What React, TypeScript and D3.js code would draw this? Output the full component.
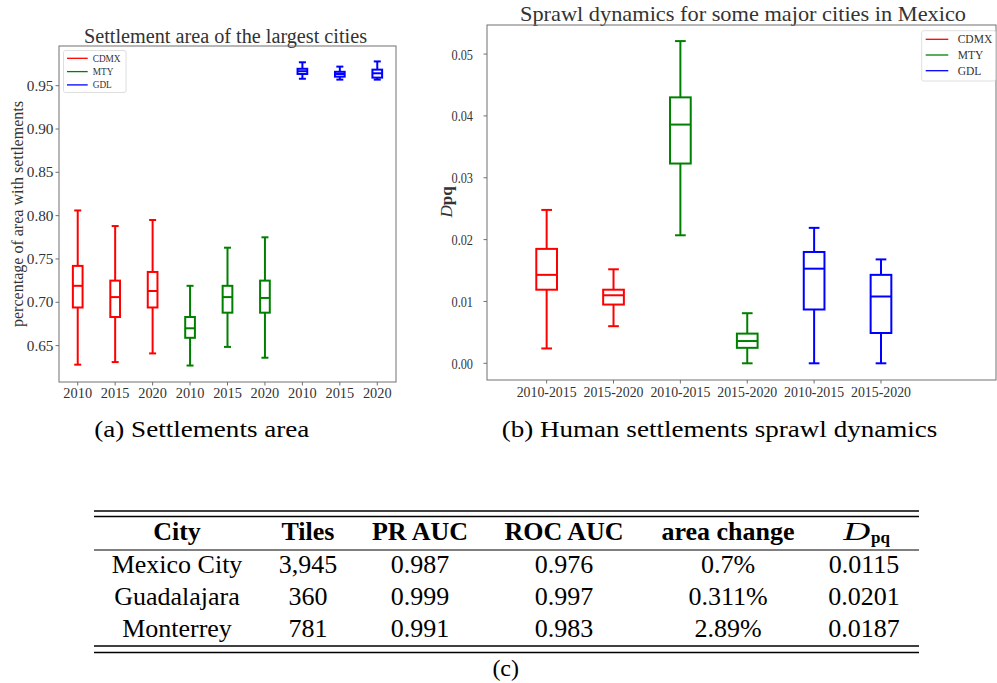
import * as d3 from 'd3';

// (a) settlement area per city and year
const areaYears = ['2010', '2015', '2020', '2010', '2015', '2020', '2010', '2015', '2020'];
const areaCity = ['CDMX', 'CDMX', 'CDMX', 'MTY', 'MTY', 'MTY', 'GDL', 'GDL', 'GDL'];
const areaLow = [0.628, 0.631, 0.641, 0.627, 0.6485, 0.636, 0.958, 0.957, 0.957];
const areaQ1 = [0.694, 0.683, 0.694, 0.659, 0.688, 0.688, 0.9635, 0.9604, 0.9593];
const areaMed = [0.719, 0.706, 0.713, 0.67, 0.706, 0.705, 0.9667, 0.9635, 0.9643];
const areaQ3 = [0.742, 0.725, 0.735, 0.683, 0.719, 0.725, 0.9695, 0.966, 0.9685];
const areaHigh = [0.806, 0.788, 0.795, 0.719, 0.763, 0.775, 0.977, 0.972, 0.978];
const areaTicks = [0.65, 0.7, 0.75, 0.8, 0.85, 0.9, 0.95];

// (b) sprawl dynamics Dpq
const sprawlPeriods = ['2010-2015', '2015-2020', '2010-2015', '2015-2020', '2010-2015', '2015-2020'];
const sprawlCity = ['CDMX', 'CDMX', 'MTY', 'MTY', 'GDL', 'GDL'];
const sprawlLow = [0.0024, 0.006, 0.0207, 0, 0, 0];
const sprawlQ1 = [0.0119, 0.0095, 0.0323, 0.0025, 0.0087, 0.0049];
const sprawlMed = [0.0143, 0.011, 0.0386, 0.0036, 0.0153, 0.0108];
const sprawlQ3 = [0.0185, 0.0119, 0.043, 0.0048, 0.018, 0.0143];
const sprawlHigh = [0.0248, 0.0152, 0.0521, 0.0081, 0.0219, 0.0168];
const sprawlTicks = [0, 0.01, 0.02, 0.03, 0.04, 0.05];

const legendCities = ['CDMX', 'MTY', 'GDL'];
const cityColor: Record<string, string> = { CDMX: '#ff0000', MTY: '#008000', GDL: '#0000ff' };

// (c) table
const tableHeader = ['City', 'Tiles', 'PR AUC', 'ROC AUC', 'area change'];
const tableCity = ['Mexico City', 'Guadalajara', 'Monterrey'];
const tableTiles = ['3,945', '360', '781'];
const tablePr = ['0.987', '0.999', '0.991'];
const tableRoc = ['0.976', '0.997', '0.983'];
const tableArea = ['0.7%', '0.311%', '2.89%'];
const tableDpq = ['0.0115', '0.0201', '0.0187'];

const SERIF = '"Liberation Serif", "DejaVu Serif", serif';
const TXT = '#333';
const SPINE = '#707070';

interface BoxProps {
  x: d3.ScaleLinear<number, number>;
  y: d3.ScaleLinear<number, number>;
  low: number[];
  q1: number[];
  med: number[];
  q3: number[];
  high: number[];
  city: string[];
  boxW: number;
  capW: number;
}

function Boxes({ x, y, low, q1, med, q3, high, city, boxW, capW }: BoxProps) {
  return (
    <g fill="none" strokeWidth={2}>
      {low.map((_, i) => {
        const cx = x(i + 1);
        const c = cityColor[city[i]];
        return (
          <g key={i} stroke={c}>
            <line x1={cx} x2={cx} y1={y(low[i])} y2={y(q1[i])} />
            <line x1={cx} x2={cx} y1={y(q3[i])} y2={y(high[i])} />
            <line x1={cx - capW / 2} x2={cx + capW / 2} y1={y(low[i])} y2={y(low[i])} />
            <line x1={cx - capW / 2} x2={cx + capW / 2} y1={y(high[i])} y2={y(high[i])} />
            <rect x={cx - boxW / 2} width={boxW} y={y(q3[i])} height={y(q1[i]) - y(q3[i])} />
            <line x1={cx - boxW / 2} x2={cx + boxW / 2} y1={y(med[i])} y2={y(med[i])} />
          </g>
        );
      })}
    </g>
  );
}

export default function App() {
  // panel (a)
  const ax = d3.scaleLinear().domain([0.5, 9.5]).range([59, 396]);
  const ay = d3.scaleLinear().domain([0.608, 0.9958]).range([382, 46]);
  // panel (b)
  const bx = d3.scaleLinear().domain([0.108, 7.72]).range([487, 996]);
  const by = d3.scaleLinear().domain([-0.0027, 0.0547]).range([380, 25]);

  const colX = [177, 308, 420, 564, 728, 864];
  const rowY = [573, 605, 637];
  const tableRows = tableCity.map((c, i) => [c, tableTiles[i], tablePr[i], tableRoc[i], tableArea[i], tableDpq[i]]);

  return (
    <svg
      width={997}
      height={683}
      style={{ position: 'absolute', left: 0, top: 0, background: '#fff' }}
      fontFamily={SERIF}
    >
      {/* ---------- (a) ---------- */}
      <text x={225.5} y={42.5} fontSize={20} fill={TXT} textAnchor="middle" textLength={283} lengthAdjust="spacingAndGlyphs">
        Settlement area of the largest cities
      </text>
      <rect x={59} y={46} width={337} height={336} fill="none" stroke={SPINE} strokeWidth={1} />
      {areaTicks.map((t) => (
        <g key={t}>
          <line x1={55.5} x2={59} y1={ay(t)} y2={ay(t)} stroke={SPINE} />
          <text x={53.5} y={ay(t) + 5} fontSize={15.5} fill={TXT} textAnchor="end" textLength={26.7} lengthAdjust="spacingAndGlyphs">
            {t.toFixed(2)}
          </text>
        </g>
      ))}
      {areaYears.map((yr, i) => (
        <g key={i}>
          <line x1={ax(i + 1)} x2={ax(i + 1)} y1={382} y2={385.5} stroke={SPINE} />
          <text x={ax(i + 1)} y={397.5} fontSize={15.5} fill={TXT} textAnchor="middle" textLength={28.7} lengthAdjust="spacingAndGlyphs">
            {yr}
          </text>
        </g>
      ))}
      <text
        transform="translate(23,214) rotate(-90)"
        fontSize={16}
        fill={TXT}
        textAnchor="middle"
        textLength={226}
        lengthAdjust="spacingAndGlyphs"
      >
        percentage of area with settlements
      </text>
      <Boxes x={ax} y={ay} low={areaLow} q1={areaQ1} med={areaMed} q3={areaQ3} high={areaHigh} city={areaCity} boxW={9.7} capW={7} />
      <rect x={63.5} y={50.5} width={62.5} height={42} rx={2} fill="#fff" fillOpacity={0.8} stroke="#d6d6d6" strokeWidth={0.8} />
      {legendCities.map((c, i) => (
        <g key={c}>
          <line x1={67} x2={87.7} y1={58.3 + i * 13.3} y2={58.3 + i * 13.3} stroke={cityColor[c]} strokeWidth={1.3} />
          <text x={92.7} y={58.3 + i * 13.3 + 3.2} fontSize={9.3} fill={TXT}>
            {c}
          </text>
        </g>
      ))}

      {/* ---------- (b) ---------- */}
      <text x={743} y={20.7} fontSize={22} fill={TXT} textAnchor="middle" textLength={446} lengthAdjust="spacingAndGlyphs">
        Sprawl dynamics for some major cities in Mexico
      </text>
      <rect x={487} y={25} width={509} height={355} fill="none" stroke={SPINE} strokeWidth={1} />
      {sprawlTicks.map((t) => (
        <g key={t}>
          <line x1={483.5} x2={487} y1={by(t)} y2={by(t)} stroke={SPINE} />
          <text x={473} y={by(t) + 5.5} fontSize={15.5} fill={TXT} textAnchor="end" textLength={21.5} lengthAdjust="spacingAndGlyphs">
            {t.toFixed(2)}
          </text>
        </g>
      ))}
      {sprawlPeriods.map((p, i) => (
        <g key={i}>
          <line x1={bx(i + 1)} x2={bx(i + 1)} y1={380} y2={383.5} stroke={SPINE} />
          <text x={bx(i + 1)} y={397} fontSize={15.5} fill={TXT} textAnchor="middle" textLength={60} lengthAdjust="spacingAndGlyphs">
            {p}
          </text>
        </g>
      ))}
      <text transform="translate(452,202) rotate(-90)" fontSize={17} fill={TXT} textAnchor="middle">
        <tspan fontStyle="italic">D</tspan>
        <tspan fontWeight="bold">pq</tspan>
      </text>
      <Boxes x={bx} y={by} low={sprawlLow} q1={sprawlQ1} med={sprawlMed} q3={sprawlQ3} high={sprawlHigh} city={sprawlCity} boxW={20.7} capW={10.7} />
      <rect x={921.7} y={30.7} width={74} height={50.3} rx={2} fill="#fff" fillOpacity={0.8} stroke="#d6d6d6" strokeWidth={0.8} />
      {legendCities.map((c, i) => (
        <g key={c}>
          <line x1={925.7} x2={948.3} y1={39.3 + i * 15.7} y2={39.3 + i * 15.7} stroke={cityColor[c]} strokeWidth={1.3} />
          <text x={957.7} y={39.3 + i * 15.7 + 4} fontSize={11.5} fill={TXT}>
            {c}
          </text>
        </g>
      ))}

      {/* ---------- captions ---------- */}
      <text x={201.8} y={436.7} fontSize={24} fill="#000" textAnchor="middle" textLength={215} lengthAdjust="spacingAndGlyphs">
        (a) Settlements area
      </text>
      <text x={719.5} y={436.7} fontSize={24} fill="#000" textAnchor="middle" textLength={435.6} lengthAdjust="spacingAndGlyphs">
        (b) Human settlements sprawl dynamics
      </text>

      {/* ---------- (c) table ---------- */}
      <g stroke="#000">
        <line x1={94} x2={919} y1={511} y2={511} strokeWidth={1.4} />
        <line x1={94} x2={919} y1={516.5} y2={516.5} strokeWidth={1.4} />
        <line x1={94} x2={919} y1={550} y2={550} strokeWidth={1} />
        <line x1={94} x2={919} y1={646} y2={646} strokeWidth={1.4} />
        <line x1={94} x2={919} y1={652.5} y2={652.5} strokeWidth={1.4} />
      </g>
      {tableHeader.map((h, i) => (
        <text key={h} x={colX[i]} y={540} fontSize={26} fontWeight="bold" textAnchor="middle" fill="#000">
          {h}
        </text>
      ))}
      <text x={843.3} y={540} fontSize={26} fontStyle="italic" fill="#000" textLength={27} lengthAdjust="spacingAndGlyphs">
        D
      </text>
      <text x={871} y={543} fontSize={17} fontWeight="bold" fill="#000">
        pq
      </text>
      {tableRows.map((row, r) =>
        row.map((v, c) => (
          <text key={`${r}-${c}`} x={colX[c]} y={rowY[r]} fontSize={26} textAnchor="middle" fill="#000">
            {v}
          </text>
        ))
      )}
      <text x={505.7} y={675.5} fontSize={24} textAnchor="middle" fill="#000">
        (c)
      </text>
    </svg>
  );
}
